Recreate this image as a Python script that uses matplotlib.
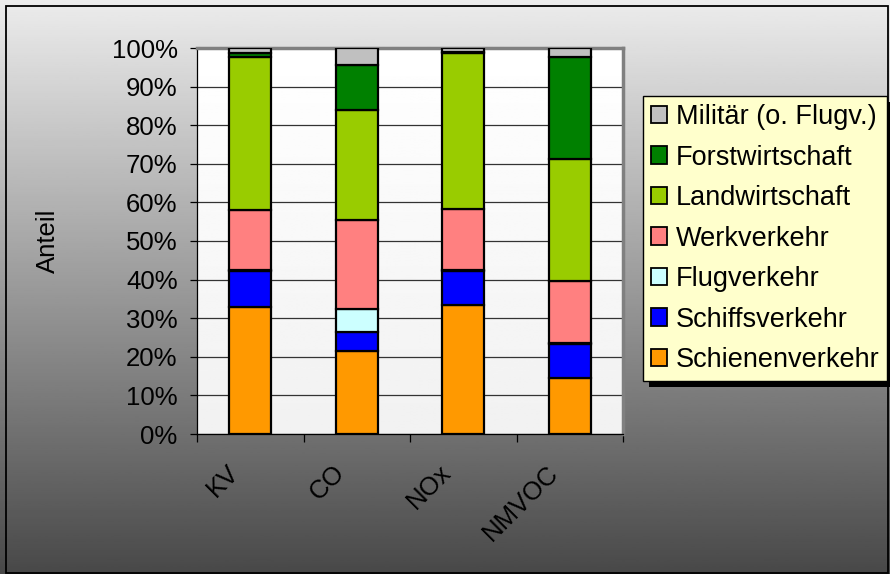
import numpy as np
import matplotlib
matplotlib.use("Agg")
import matplotlib.pyplot as plt
from matplotlib.patches import Patch, Rectangle
from matplotlib.transforms import ScaledTranslation

plt.rcParams['font.family'] = ['Liberation Sans', 'DejaVu Sans']

# Anteile je Schadstoff in %
categories = ['KV', 'CO', 'NOx', 'NMVOC']
schiene = [32.9, 21.5, 33.4, 14.4]
schiff = [9.3, 5.0, 8.9, 8.9]
flug = [0.3, 6.0, 0.2, 0.3]
werk = [15.5, 22.9, 15.7, 16.0]
land = [39.7, 28.5, 40.4, 31.6]
forst = [1.1, 11.7, 0.4, 26.4]
militaer = [1.2, 4.4, 1.0, 2.4]

series = [
    ('Schienenverkehr', schiene, '#FF9900'),
    ('Schiffsverkehr', schiff, '#0000FF'),
    ('Flugverkehr', flug, '#CCFFFF'),
    ('Werkverkehr', werk, '#FF8080'),
    ('Landwirtschaft', land, '#99CC00'),
    ('Forstwirtschaft', forst, '#008000'),
    ('Militär (o. Flugv.)', militaer, '#C0C0C0'),
]

W, H = 890, 574
FS = 18.5
fig = plt.figure(figsize=(W / 100, H / 100), dpi=100)

# grauer Verlauf als Hintergrund
bg = fig.add_axes([0, 0, 1, 1], zorder=-10)
grad = np.linspace(0.925, 0.285, 256).reshape(-1, 1)
bg.imshow(grad, aspect='auto', cmap='gray', vmin=0, vmax=1, extent=[0, 1, 0, 1])
bg.set_axis_off()
fig.patches.append(Rectangle((6 / W, 1 / H), (W - 8) / W, (H - 7) / H,
                             transform=fig.transFigure, fill=False,
                             edgecolor='black', linewidth=1.3))

ax = fig.add_axes([197 / W, (H - 434) / H, 426 / W, 386 / H])
ax.imshow(np.linspace(1.0, 0.945, 256).reshape(-1, 1), aspect='auto', cmap='gray',
          vmin=0, vmax=1, extent=[-0.5, 3.5, 0, 100], zorder=0)

x = np.arange(len(categories))
bottom = np.zeros(len(categories))
handles = []
for name, vals, col in series:
    ax.bar(x, vals, width=0.39, bottom=bottom, color=col, edgecolor='black',
           linewidth=1.6, zorder=3)
    bottom += np.array(vals)
    handles.append(Patch(facecolor=col, edgecolor='black', linewidth=1.3, label=name))

ax.set_xlim(-0.5, 3.5)
ax.set_ylim(0, 100)
ax.set_yticks(np.arange(0, 101, 10))
ax.set_yticklabels([f'{v}%' for v in range(0, 101, 10)])
ax.grid(axis='y', color='#333333', linewidth=0.9, zorder=1)
ax.set_axisbelow(True)

ax.set_xticks(x)
ax.set_xticks(np.arange(-0.5, 3.6, 1), minor=True)
ax.set_xticklabels(categories, rotation=45, ha='right', va='top')
ax.tick_params(axis='x', which='major', length=0, pad=19, labelsize=FS)
ax.tick_params(axis='x', which='minor', length=6, width=0.9, direction='out')
ax.tick_params(axis='y', length=5, width=0.9, direction='out', pad=9, labelsize=FS)
for lab in ax.get_xticklabels():
    lab.set_transform(lab.get_transform() + ScaledTranslation(-0.07, 0, fig.dpi_scale_trans))

for s in ['top', 'right']:
    ax.spines[s].set_color('#808080')
    ax.spines[s].set_linewidth(2.5)
for s in ['left', 'bottom']:
    ax.spines[s].set_color('black')
    ax.spines[s].set_linewidth(0.9)

ax.set_ylabel('Anteil', fontsize=FS)
ax.yaxis.set_label_coords((60 - 197) / 426, 0.5)

leg = fig.legend(handles=handles[::-1], loc='upper left',
                 bbox_to_anchor=(643 / W, 1 - 96 / H), bbox_transform=fig.transFigure,
                 fontsize=19.5, frameon=True, fancybox=False, borderaxespad=0,
                 handlelength=0.6, handleheight=0.6, handletextpad=0.3,
                 labelspacing=0.535, borderpad=0.3)
leg.get_frame().set_facecolor('#FFFFCC')
leg.get_frame().set_edgecolor('black')
leg.get_frame().set_linewidth(1.0)
leg.get_frame().set_alpha(1)

# Schatten der Legende
fig.canvas.draw()
bb = leg.get_window_extent().transformed(fig.transFigure.inverted())
fig.patches.append(Rectangle((bb.x0 + 6 / W, bb.y0 - 6 / H), bb.width, bb.height,
                             transform=fig.transFigure, facecolor='black',
                             edgecolor='none', zorder=-1))

fig.savefig('out.png', dpi=100)
